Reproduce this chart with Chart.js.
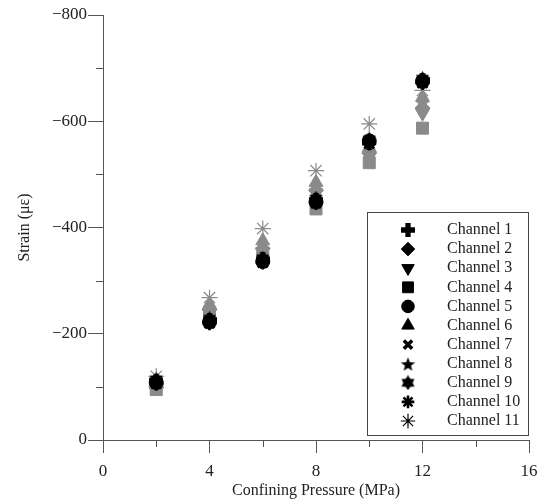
<!DOCTYPE html>
<html>
<head>
<meta charset="utf-8">
<script src="https://cdn.jsdelivr.net/npm/chart.js@4.4.1/dist/chart.umd.min.js"></script>
<style>
  html, body { margin: 0; padding: 0; background: #fff; }
</style>
</head>
<body>
<canvas id="chart" width="547" height="502"></canvas>
<script>
// Data (strain in micro-strain, compression negative)
const pressure = [2, 4, 6, 8, 10, 12];
const channelNames = ["Channel 1", "Channel 2", "Channel 3", "Channel 4", "Channel 5", "Channel 6",
  "Channel 7", "Channel 8", "Channel 9", "Channel 10", "Channel 11"];
const ch1 = [-112, -226, -340, -452, -560, -678];
const ch2 = [-100, -245, -360, -470, -540, -625];
const ch3 = [-98, -240, -355, -465, -535, -615];
const ch4 = [-95, -232, -345, -435, -522, -587];
const ch5 = [-108, -222, -336, -448, -563, -675];
const ch6 = [-104, -255, -375, -485, -550, -645];
const ch7 = [-110, -224, -338, -450, -562, -676];
const ch8 = [-102, -250, -368, -478, -545, -635];
const ch9 = [-114, -228, -342, -455, -566, -680];
const ch10 = [-106, -220, -334, -446, -558, -672];
const ch11 = [-120, -268, -398, -507, -595, -658];
const channels = [ch1, ch2, ch3, ch4, ch5, ch6, ch7, ch8, ch9, ch10, ch11];

const xTicks = [0, 4, 8, 12, 16];
const xMinor = [2, 6, 10, 14];
const yTicks = [0, -200, -400, -600, -800];
const yMinor = [-100, -300, -500, -700];

const BLACK = "#000000";
const GREY = "#8a8a8a";
const AXIS = "#555555";
const FONT = "'Liberation Serif', 'DejaVu Serif', serif";

// small canvas markers for shapes chart.js has no filled version of
function makeMarker(shape, color, size) {
  const c = document.createElement("canvas");
  c.width = size;
  c.height = size;
  const g = c.getContext("2d");
  g.fillStyle = color;
  const cx = size / 2, cy = size / 2, R = size / 2;
  g.beginPath();
  if (shape === "plus") {
    const t = size * 0.19;
    g.rect(cx - t, 0, 2 * t, size);
    g.rect(0, cy - t, size, 2 * t);
  } else if (shape === "star5") {
    for (let i = 0; i < 10; i++) {
      const r = i % 2 ? R * 0.42 : R;
      const a = -Math.PI / 2 + i * Math.PI / 5;
      g.lineTo(cx + r * Math.cos(a), cy + 1 + r * Math.sin(a));
    }
  } else if (shape === "star6") {
    for (let i = 0; i < 12; i++) {
      const r = i % 2 ? R * 0.62 : R;
      const a = -Math.PI / 2 + i * Math.PI / 6;
      g.lineTo(cx + r * Math.cos(a), cy + r * Math.sin(a));
    }
  }
  g.closePath();
  g.fill();
  return c;
}

function markerSet(color) {
  return [
    { pointStyle: makeMarker("plus", color, 14), radius: 7, borderWidth: 0 },
    { pointStyle: "rectRot", radius: 7.5, borderWidth: 1 },
    { pointStyle: "triangle", rotation: 180, radius: 8, borderWidth: 1 },
    { pointStyle: "rect", radius: 8.5, borderWidth: 1 },
    { pointStyle: "circle", radius: 7, borderWidth: 1 },
    { pointStyle: "triangle", radius: 8, borderWidth: 1 },
    { pointStyle: "crossRot", radius: 6.5, borderWidth: 3.5 },
    { pointStyle: makeMarker("star5", color, 15), radius: 7, borderWidth: 0 },
    { pointStyle: makeMarker("star6", color, 15), radius: 7, borderWidth: 0 },
    { pointStyle: "star", radius: 7, borderWidth: 2.6 },
    { pointStyle: "star", radius: 8, borderWidth: 1.2 },
  ];
}
const blackMarkers = markerSet(BLACK);
const greyMarkers = markerSet(GREY);
const isGrey = [false, true, true, true, false, true, false, true, false, false, true];

const datasets = channels.map((vals, i) => {
  const m = isGrey[i] ? greyMarkers[i] : blackMarkers[i];
  const col = isGrey[i] ? GREY : BLACK;
  return {
    label: channelNames[i],
    data: pressure.map((p, k) => ({ x: p, y: vals[k] })),
    showLine: false,
    pointStyle: m.pointStyle,
    rotation: m.rotation || 0,
    pointRadius: m.radius,
    pointBorderWidth: m.borderWidth,
    backgroundColor: col,
    borderColor: col,
    order: isGrey[i] ? 2 : 1,
  };
});

// minor ticks and the boxed legend inside the plot
const extras = {
  id: "extras",
  afterDraw(chart) {
    const ctx = chart.ctx;
    const xs = chart.scales.x, ys = chart.scales.y;
    ctx.save();
    ctx.strokeStyle = AXIS;
    ctx.lineWidth = 1;
    ctx.beginPath();
    xMinor.forEach(v => {
      const px = Math.round(xs.getPixelForValue(v)) + 0.5;
      ctx.moveTo(px, ys.bottom);
      ctx.lineTo(px, ys.bottom + 7);
    });
    yMinor.forEach(v => {
      const py = Math.round(ys.getPixelForValue(v)) + 0.5;
      ctx.moveTo(xs.left - 7, py);
      ctx.lineTo(xs.left, py);
    });
    ctx.stroke();

    // legend
    ctx.strokeStyle = "#444";
    ctx.strokeRect(367.5, 212.5, 161, 223);
    ctx.font = "16px " + FONT;
    ctx.textBaseline = "middle";
    ctx.textAlign = "left";
    chart.data.datasets.forEach((ds, i) => {
      const y = 230 + i * 19.1;
      const m = blackMarkers[i];
      ctx.fillStyle = BLACK;
      ctx.strokeStyle = BLACK;
      ctx.lineWidth = m.borderWidth;
      Chart.helpers.drawPoint(ctx, {
        pointStyle: m.pointStyle,
        rotation: m.rotation || 0,
        radius: m.radius * 0.9,
        borderWidth: m.borderWidth,
      }, 408, y);
      ctx.fillStyle = "#222";
      ctx.fillText(ds.label, 447, y);
    });
    ctx.restore();
  },
};

new Chart(document.getElementById("chart"), {
  type: "scatter",
  data: { datasets },
  plugins: [extras],
  options: {
    responsive: false,
    animation: false,
    devicePixelRatio: 1,
    layout: { padding: { top: 15, right: 18, left: 0, bottom: 0 } },
    plugins: {
      legend: { display: false },
      tooltip: { enabled: false },
    },
    scales: {
      x: {
        type: "linear",
        min: 0,
        max: 16,
        afterBuildTicks: s => { s.ticks = xTicks.map(v => ({ value: v })); },
        afterFit: s => { s.height = 62; },
        grid: { drawOnChartArea: false, drawTicks: true, tickLength: 13, color: AXIS },
        border: { display: true, color: AXIS },
        ticks: { color: "#222", font: { family: FONT, size: 17 }, padding: 8, maxRotation: 0 },
        title: {
          display: true,
          text: "Confining Pressure (MPa)",
          color: "#222",
          font: { family: FONT, size: 16 },
          padding: { top: 0, bottom: 2 },
        },
      },
      y: {
        type: "linear",
        min: -800,
        max: 0,
        reverse: true,
        afterBuildTicks: s => { s.ticks = yTicks.map(v => ({ value: v })); },
        afterFit: s => { s.width = 103; },
        grid: { drawOnChartArea: false, drawTicks: true, tickLength: 15, color: AXIS },
        border: { display: true, color: AXIS },
        ticks: {
          color: "#222",
          font: { family: FONT, size: 17 },
          padding: 1,
          callback: v => (v === 0 ? "0" : "\u2212" + Math.abs(v)),
        },
        title: {
          display: true,
          text: "Strain (\u03bc\u03b5)",
          color: "#222",
          font: { family: FONT, size: 16 },
          padding: { top: 15, bottom: 0 },
        },
      },
    },
  },
});
</script>
</body>
</html>
